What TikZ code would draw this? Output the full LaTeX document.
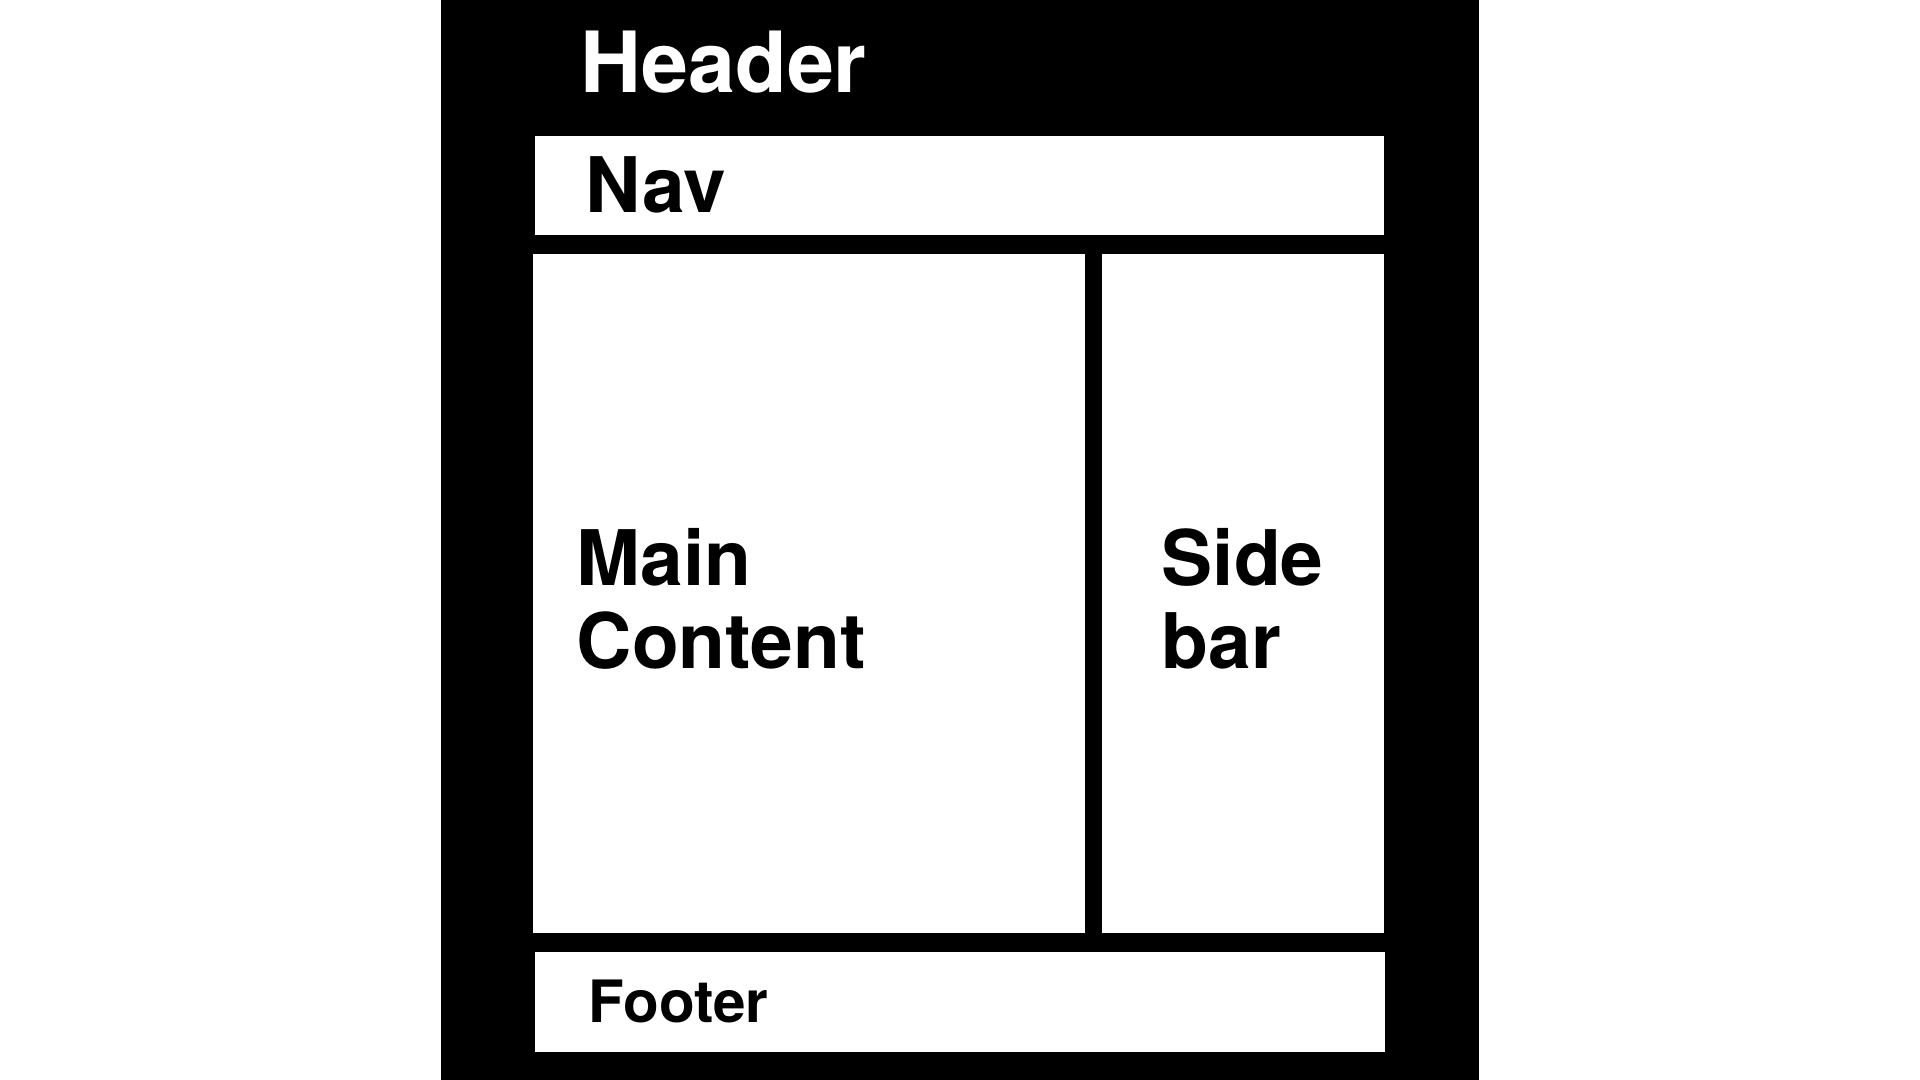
\documentclass[tikz,border=0pt]{standalone}
\usepackage{fontspec}
\setmainfont{TeX Gyre Heros}
\usetikzlibrary{positioning}

\tikzset{
    area/.style={fill=white, inner sep=0pt, outer sep=0pt},
    tag/.style={anchor=base west, inner sep=0pt, align=left, font=\bfseries},
}

\begin{document}
\begin{tikzpicture}[x=0.01cm, y=-0.01cm]
    \useasboundingbox (0, 0) rectangle (1920, 1080);
    % page frame
    \fill[black] (441, 0) rectangle (1479, 1080);

    \fill[area] (535, 136) rectangle (1384, 235);
    \fill[area] (533, 254) rectangle (1085, 933);
    \fill[area] (1102, 254) rectangle (1384, 933);
    \fill[area] (535, 952) rectangle (1385, 1052);

    \node[tag, text=white, font=\bfseries\fontsize{24}{26}\selectfont] (header) at (580, 93) {Header};
    \node[tag, font=\bfseries\fontsize{21.8}{23.6}\selectfont] (nav) at (585, 213) {Nav};
    % base anchor sits on the last line
    \node[tag, font=\bfseries\fontsize{21.8}{23.6}\selectfont] (main) at (576, 669) {Main\\Content};
    \node[tag, font=\bfseries\fontsize{21.8}{23.6}\selectfont] (side) at (1161, 669) {Side\\bar};
    \node[tag, font=\bfseries\fontsize{16.6}{18}\selectfont] (footer) at (588, 1023) {Footer};
\end{tikzpicture}
\end{document}
